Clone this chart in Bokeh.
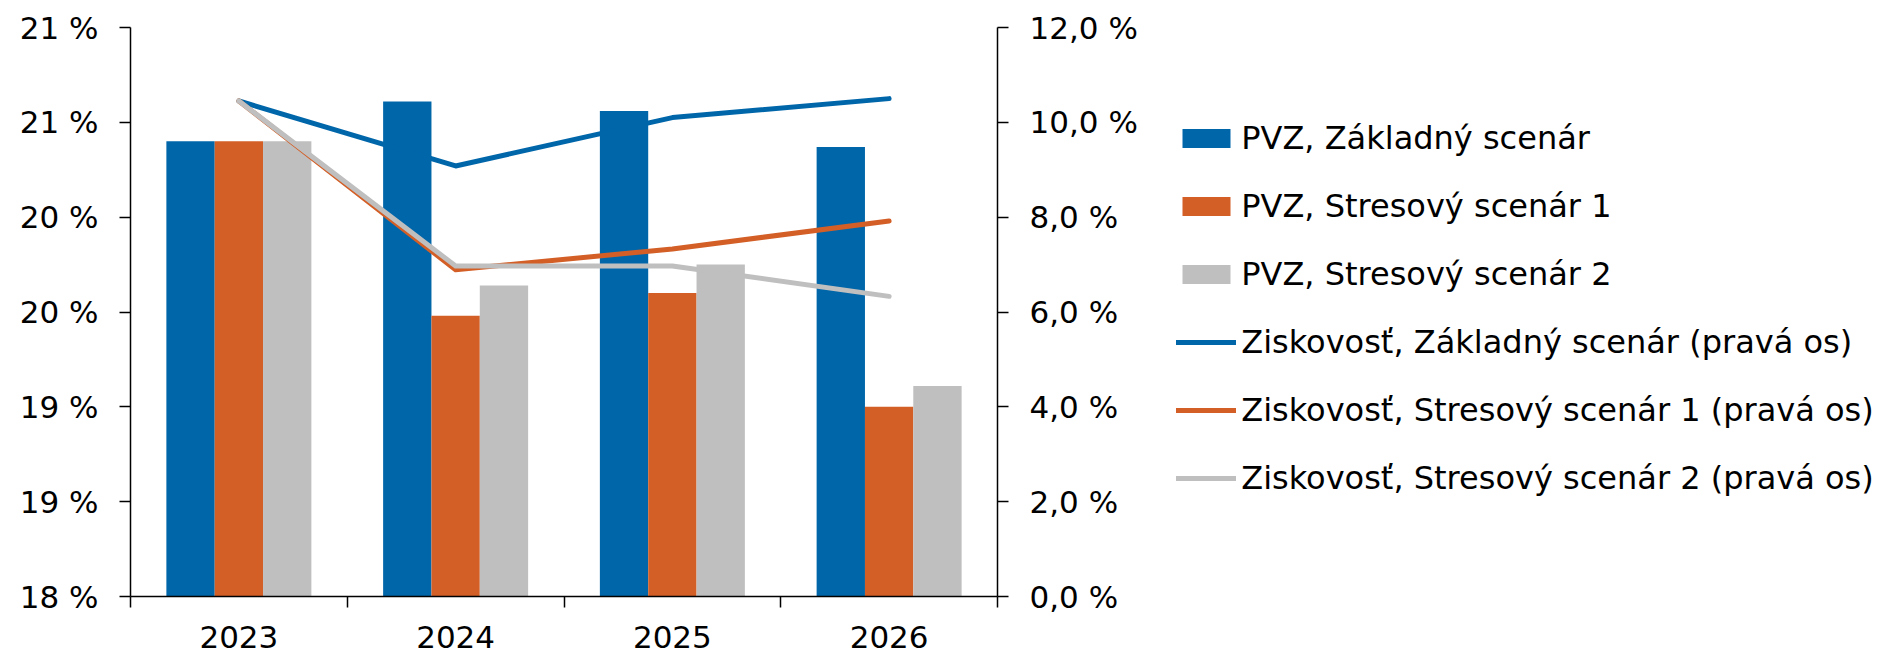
import numpy as np
from bokeh.plotting import figure
from bokeh.models import (Range1d, LinearAxis, FixedTicker, CustomJSTickFormatter,
                          Legend, LegendItem)
from bokeh.embed import file_html
from bokeh.resources import INLINE

# ---- data ----
years = ["2023", "2024", "2025", "2026"]
pvz_zakladny = [20.40, 20.61, 20.56, 20.37]
pvz_stres1 = [20.40, 19.48, 19.60, 19.00]
pvz_stres2 = [20.40, 19.64, 19.75, 19.11]
zisk_zakladny = [10.45, 9.08, 10.10, 10.50]
zisk_stres1 = [10.45, 6.89, 7.33, 7.92]
zisk_stres2 = [10.45, 6.97, 6.97, 6.33]
left_ticks = [18, 18.5, 19, 19.5, 20, 20.5, 21]
right_ticks = [0, 2, 4, 6, 8, 10, 12]
bar_labels = ["PVZ, Základný scenár", "PVZ, Stresový scenár 1", "PVZ, Stresový scenár 2"]
line_labels = ["Ziskovosť, Základný scenár (pravá os)",
               "Ziskovosť, Stresový scenár 1 (pravá os)",
               "Ziskovosť, Stresový scenár 2 (pravá os)"]

BLUE = "#0066AA"
ORANGE = "#D35F27"
GRAY = "#BFBFBF"
AX_FONT = "DejaVu Sans"
LEG_FONT = "DejaVu Sans"

x = np.arange(len(years)) + 0.5

p = figure(frame_width=867, frame_height=569, x_range=Range1d(0, len(years)),
           y_range=Range1d(left_ticks[0], left_ticks[-1]),
           output_backend="svg", toolbar_location=None,
           min_border_left=130, min_border_top=27, min_border_right=0,
           min_border_bottom=58)
p.extra_y_ranges = {"right": Range1d(right_ticks[0], right_ticks[-1])}
p.outline_line_color = None
p.xgrid.visible = False
p.ygrid.visible = False
p.background_fill_color = "white"
p.border_fill_color = "white"

bw = 0.223
r_b0 = p.vbar(x=x - bw, top=pvz_zakladny, bottom=left_ticks[0], width=bw,
              fill_color=BLUE, line_color=None)
r_b1 = p.vbar(x=x, top=pvz_stres1, bottom=left_ticks[0], width=bw,
              fill_color=ORANGE, line_color=None)
r_b2 = p.vbar(x=x + bw, top=pvz_stres2, bottom=left_ticks[0], width=bw,
              fill_color=GRAY, line_color=None)

lw = 5
r_l0 = p.line(x, zisk_zakladny, y_range_name="right", line_color=BLUE,
              line_width=lw, line_cap="round", line_join="round")
r_l1 = p.line(x, zisk_stres1, y_range_name="right", line_color=ORANGE,
              line_width=lw, line_cap="round", line_join="round")
r_l2 = p.line(x, zisk_stres2, y_range_name="right", line_color=GRAY,
              line_width=lw, line_cap="round", line_join="round")

# left axis
ya = p.yaxis[0]
ya.ticker = FixedTicker(ticks=left_ticks)
ya.formatter = CustomJSTickFormatter(code="return Math.round(tick) + ' %'")
# right axis
ra = LinearAxis(y_range_name="right")
ra.ticker = FixedTicker(ticks=right_ticks)
ra.formatter = CustomJSTickFormatter(code="return tick.toFixed(1).replace('.', ',') + ' %'")
p.add_layout(ra, "right")

for ax in (ya, ra):
    ax.axis_line_color = "black"
    ax.axis_line_width = 1.5
    ax.major_tick_line_color = "black"
    ax.major_tick_line_width = 1.5
    ax.major_tick_out = 11
    ax.major_tick_in = 0
    ax.minor_tick_line_color = None
    ax.major_label_standoff = 21
    ax.major_label_text_font = AX_FONT
    ax.major_label_text_font_size = "31px"
    ax.major_label_text_color = "black"

# bottom axis: labels at category centres, ticks at category boundaries
xa = p.xaxis[0]
xa.ticker = FixedTicker(ticks=list(x), minor_ticks=list(range(len(years) + 1)))
xa.major_label_overrides = {float(xi): yr for xi, yr in zip(x, years)}
xa.axis_line_color = "black"
xa.axis_line_width = 1.5
xa.major_tick_line_color = None
xa.major_tick_out = 0
xa.major_tick_in = 0
xa.minor_tick_line_color = "black"
xa.minor_tick_line_width = 1.5
xa.minor_tick_out = 11
xa.minor_tick_in = 0
xa.major_label_standoff = 18
xa.major_label_text_font = AX_FONT
xa.major_label_text_font_size = "31px"
xa.major_label_text_color = "black"

items = ([LegendItem(label=l, renderers=[r]) for l, r in zip(bar_labels, [r_b0, r_b1, r_b2])] +
         [LegendItem(label=l, renderers=[r]) for l, r in zip(line_labels, [r_l0, r_l1, r_l2])])
leg = Legend(items=items, location=(-184, 98), padding=0, margin=0,
             border_line_color=None, background_fill_alpha=0,
             label_text_font=LEG_FONT, label_text_font_size="32px",
             label_text_color="black", label_height=40, spacing=28,
             glyph_width=60, glyph_height=24, label_standoff=5)
p.add_layout(leg, "right")

open("out.html", "w").write(file_html(p, INLINE))
